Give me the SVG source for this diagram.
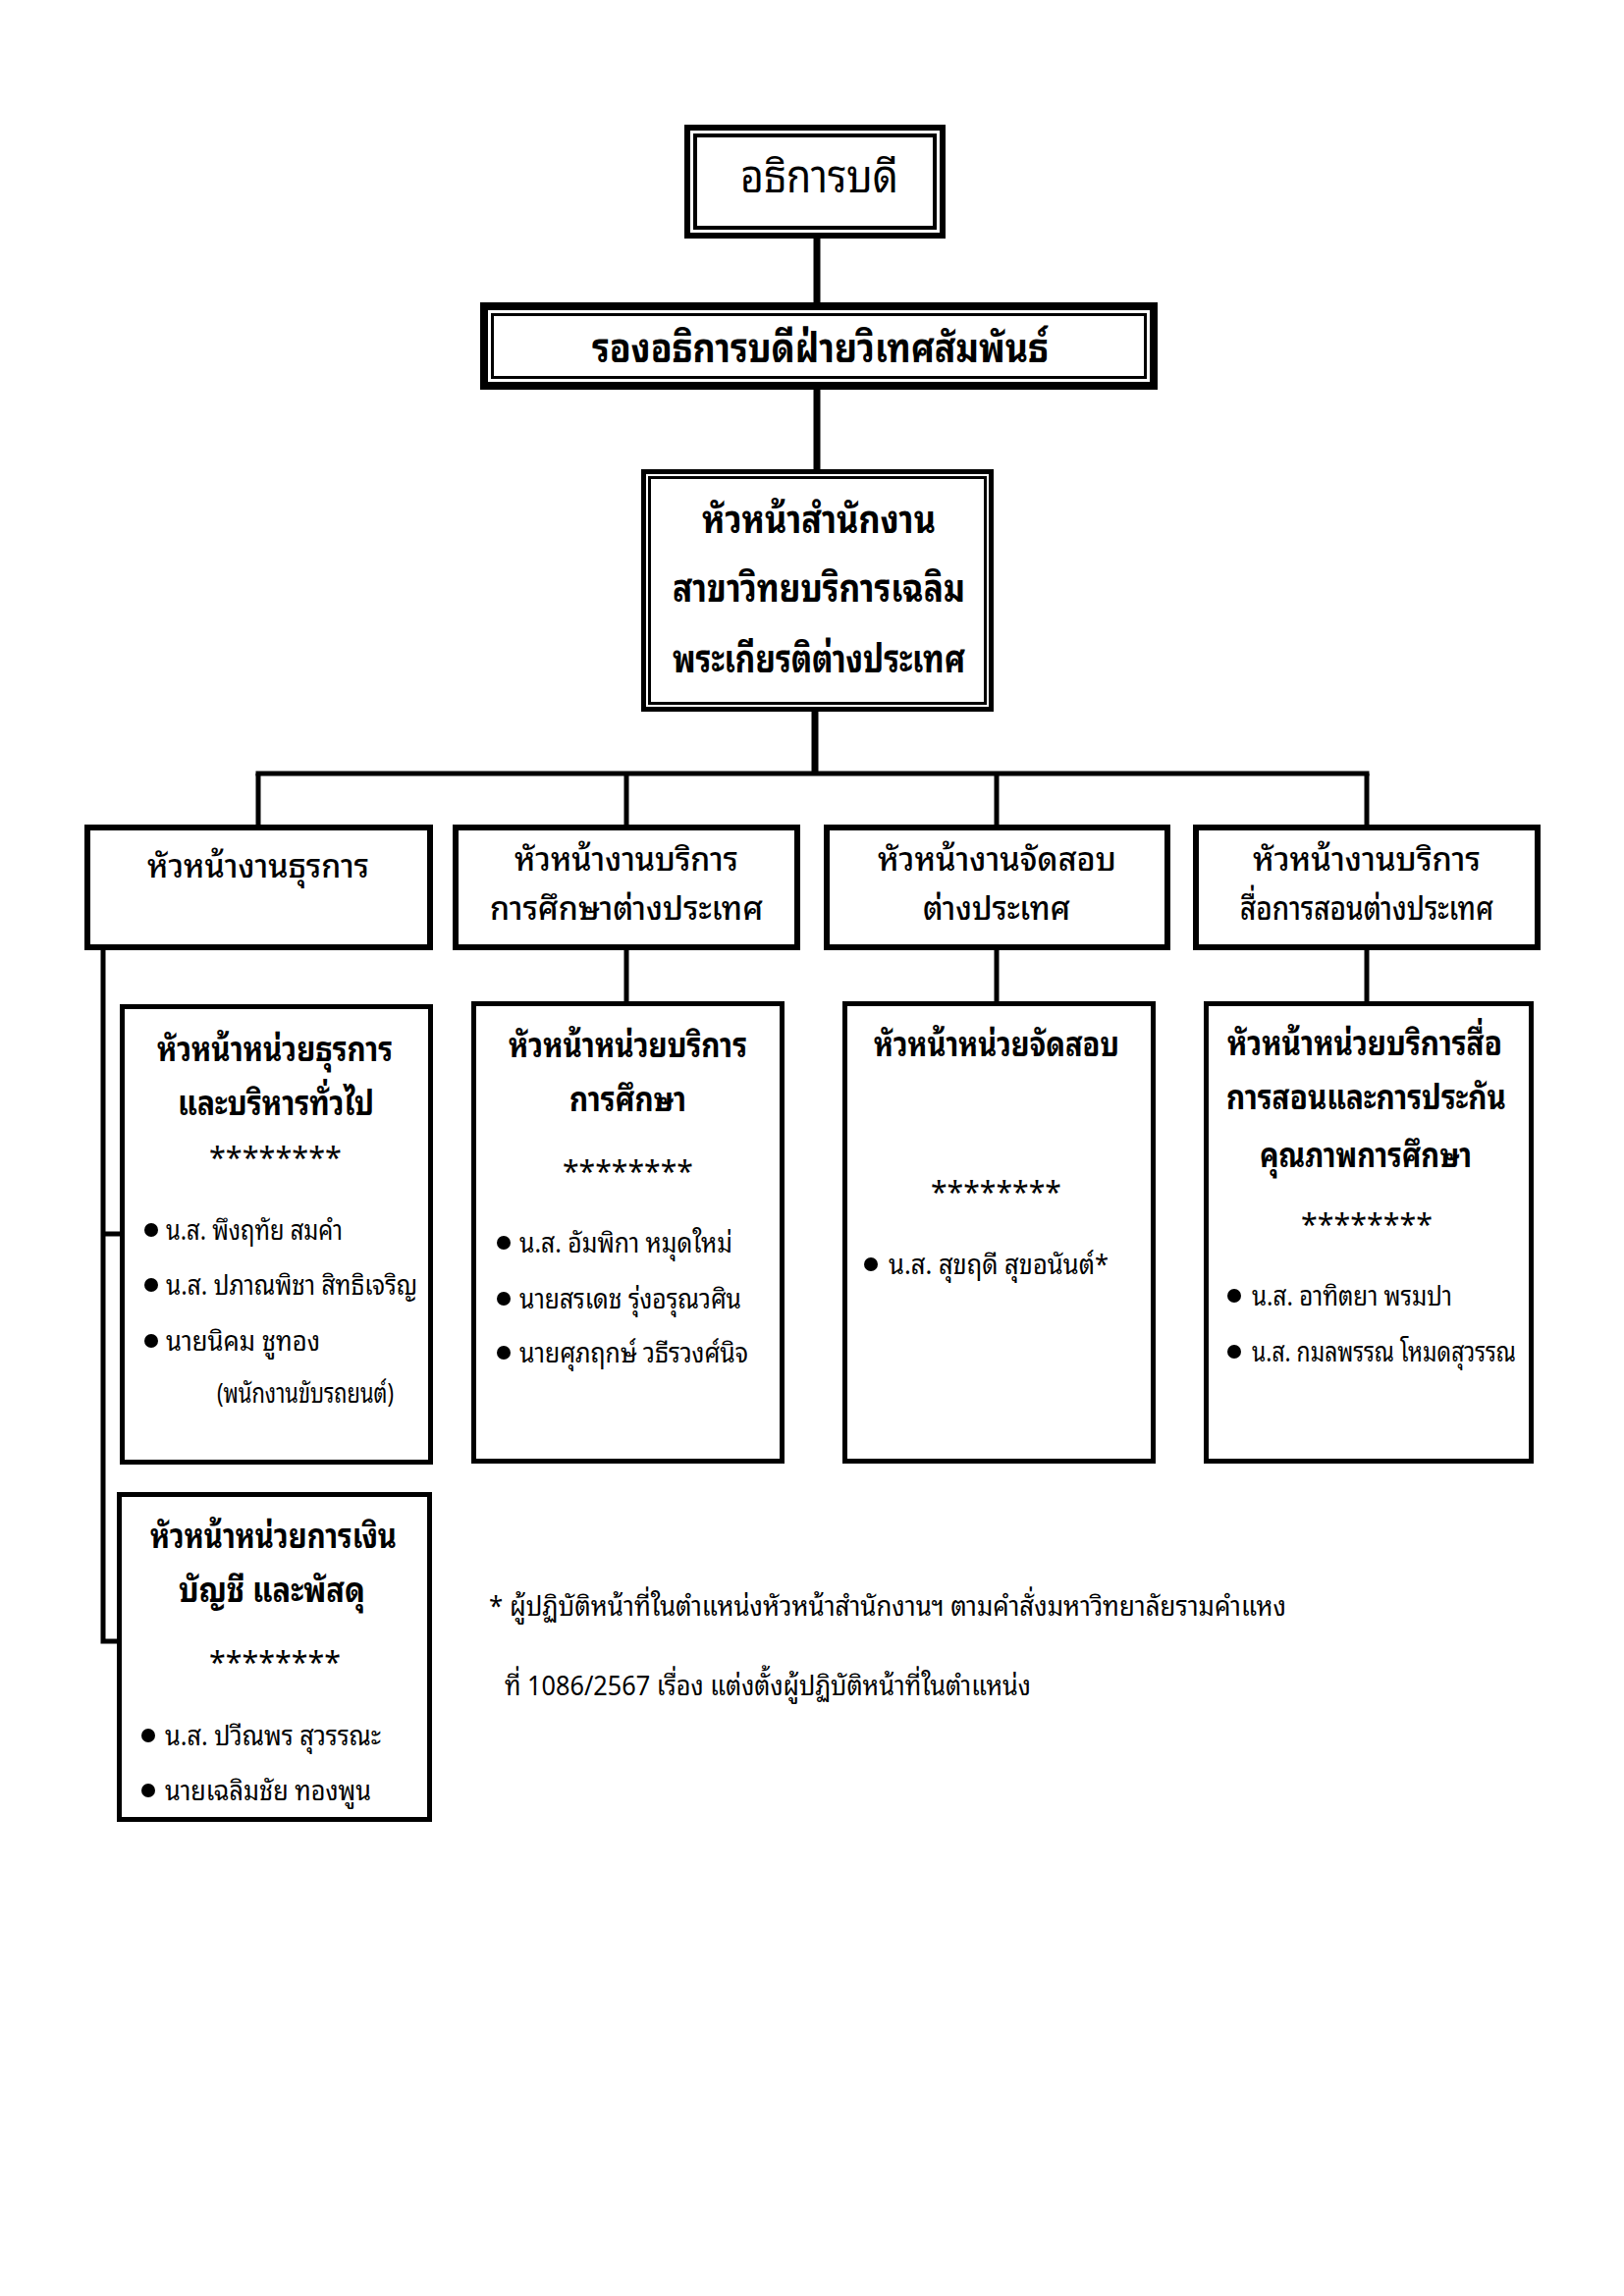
<svg xmlns="http://www.w3.org/2000/svg" width="1654" height="2339" viewBox="0 0 1654 2339">
<style>
text{font-family:'Noto Sans Thai Looped','Sarabun','TH Sarabun New','Loma','Garuda','Waree','Noto Sans Thai','Noto Sans Thai UI','Noto Sans','DejaVu Sans',sans-serif;fill:#000}
.t1{font-size:46px}
.t2{font-size:42px;font-weight:bold}
.t3{font-size:40px;font-weight:bold}
.t4{font-size:33px;font-weight:500}
.t5{font-size:34px;font-weight:bold}
.st{font-size:30px}
.p{font-size:28px}
.b6{fill:#fff;stroke:#000;stroke-width:6}
.b5{fill:#fff;stroke:#000;stroke-width:5}
.ln{stroke:#000;fill:none}
</style>
<rect width="1654" height="2339" fill="#fff"/>
<g id="connectors" class="ln">
<line x1="832" y1="243" x2="832" y2="308" stroke-width="7"/>
<line x1="832" y1="397" x2="832" y2="478" stroke-width="7"/>
<line x1="830" y1="725" x2="830" y2="788" stroke-width="7"/>
<line x1="260.5" y1="788" x2="1394.5" y2="788" stroke-width="5"/>
<line x1="263" y1="788" x2="263" y2="840" stroke-width="5"/>
<line x1="638" y1="788" x2="638" y2="840" stroke-width="5"/>
<line x1="1015" y1="788" x2="1015" y2="840" stroke-width="5"/>
<line x1="1392" y1="788" x2="1392" y2="840" stroke-width="5"/>
<line x1="638" y1="968" x2="638" y2="1020" stroke-width="5"/>
<line x1="1015" y1="968" x2="1015" y2="1020" stroke-width="5"/>
<line x1="1392" y1="968" x2="1392" y2="1020" stroke-width="5"/>
<polyline points="105,968 105,1672 120,1672" stroke-width="5"/>
<line x1="105" y1="1257" x2="123" y2="1257" stroke-width="5"/>
</g>
<g id="n1">
<rect x="700" y="130" width="260" height="110" fill="#fff" stroke="#000" stroke-width="6"/>
<rect x="708" y="138" width="244" height="94" fill="none" stroke="#000" stroke-width="4"/>
<text class="t1" x="754" y="196" textLength="161" lengthAdjust="spacingAndGlyphs">อธิการบดี</text>
</g>
<g id="n2">
<rect x="493" y="312" width="682" height="81" fill="#fff" stroke="#000" stroke-width="8"/>
<rect x="501.5" y="320.5" width="665" height="64" fill="none" stroke="#000" stroke-width="3"/>
<text class="t2" x="603" y="369" textLength="465" lengthAdjust="spacingAndGlyphs">รองอธิการบดีฝ่ายวิเทศสัมพันธ์</text>
</g>
<g id="n3">
<rect x="655.5" y="480.5" width="354" height="242" fill="#fff" stroke="#000" stroke-width="5"/>
<rect x="661.5" y="486.5" width="342" height="230" fill="none" stroke="#000" stroke-width="3"/>
<text class="t3" x="715" y="543" textLength="238" lengthAdjust="spacingAndGlyphs">หัวหน้าสำนักงาน</text>
<text class="t3" x="685" y="613" textLength="298" lengthAdjust="spacingAndGlyphs">สาขาวิทยบริการเฉลิม</text>
<text class="t3" x="685" y="685" textLength="298" lengthAdjust="spacingAndGlyphs">พระเกียรติต่างประเทศ</text>
</g>
<g id="s1">
<rect class="b6" x="89" y="843" width="349" height="122"/>
<text class="t4" x="150" y="894" textLength="226" lengthAdjust="spacingAndGlyphs">หัวหน้างานธุรการ</text>
</g>
<g id="s2">
<rect class="b6" x="464" y="843" width="348" height="122"/>
<text class="t4" x="524" y="887" textLength="228" lengthAdjust="spacingAndGlyphs">หัวหน้างานบริการ</text>
<text class="t4" x="499" y="937" textLength="278" lengthAdjust="spacingAndGlyphs">การศึกษาต่างประเทศ</text>
</g>
<g id="s3">
<rect class="b6" x="842" y="843" width="347" height="122"/>
<text class="t4" x="894" y="887" textLength="243" lengthAdjust="spacingAndGlyphs">หัวหน้างานจัดสอบ</text>
<text class="t4" x="940" y="937" textLength="150" lengthAdjust="spacingAndGlyphs">ต่างประเทศ</text>
</g>
<g id="s4">
<rect class="b6" x="1218" y="843" width="348" height="122"/>
<text class="t4" x="1276" y="887" textLength="232" lengthAdjust="spacingAndGlyphs">หัวหน้างานบริการ</text>
<text class="t4" x="1263" y="937" textLength="258" lengthAdjust="spacingAndGlyphs">สื่อการสอนต่างประเทศ</text>
</g>
<g id="uA">
<rect class="b5" x="124.5" y="1025.5" width="314" height="464"/>
<text class="t5" x="160" y="1081" textLength="240" lengthAdjust="spacingAndGlyphs">หัวหน้าหน่วยธุรการ</text>
<text class="t5" x="181" y="1136" textLength="200" lengthAdjust="spacingAndGlyphs">และบริหารทั่วไป</text>
<text class="st" x="213" y="1190" textLength="135" lengthAdjust="spacingAndGlyphs">********</text>
<circle cx="154" cy="1253" r="7"/>
<text class="p" x="169" y="1263" textLength="180" lengthAdjust="spacingAndGlyphs">น.ส. พึงฤทัย สมคำ</text>
<circle cx="154" cy="1309" r="7"/>
<text class="p" x="169" y="1319" textLength="256" lengthAdjust="spacingAndGlyphs">น.ส. ปภาณพิชา สิทธิเจริญ</text>
<circle cx="154" cy="1366" r="7"/>
<text class="p" x="169" y="1376" textLength="157" lengthAdjust="spacingAndGlyphs">นายนิคม ชูทอง</text>
<text class="p" x="221" y="1429" textLength="180" lengthAdjust="spacingAndGlyphs">(พนักงานขับรถยนต์)</text>
</g>
<g id="uB">
<rect class="b5" x="482.5" y="1022.5" width="314" height="466"/>
<text class="t5" x="518" y="1077" textLength="243" lengthAdjust="spacingAndGlyphs">หัวหน้าหน่วยบริการ</text>
<text class="t5" x="580" y="1132" textLength="119" lengthAdjust="spacingAndGlyphs">การศึกษา</text>
<text class="st" x="573" y="1204" textLength="133" lengthAdjust="spacingAndGlyphs">********</text>
<circle cx="513" cy="1266" r="7"/>
<text class="p" x="529" y="1276" textLength="217" lengthAdjust="spacingAndGlyphs">น.ส. อัมพิกา หมุดใหม่</text>
<circle cx="513" cy="1323" r="7"/>
<text class="p" x="529" y="1333" textLength="226" lengthAdjust="spacingAndGlyphs">นายสรเดช รุ่งอรุณวศิน</text>
<circle cx="513" cy="1378" r="7"/>
<text class="p" x="529" y="1388" textLength="233" lengthAdjust="spacingAndGlyphs">นายศุภฤกษ์ วธีรวงศ์นิจ</text>
</g>
<g id="uC">
<rect class="b5" x="860.5" y="1022.5" width="314" height="466"/>
<text class="t5" x="890" y="1076" textLength="250" lengthAdjust="spacingAndGlyphs">หัวหน้าหน่วยจัดสอบ</text>
<text class="st" x="948" y="1225" textLength="133" lengthAdjust="spacingAndGlyphs">********</text>
<circle cx="887" cy="1288" r="7"/>
<text class="p" x="905" y="1298" textLength="224" lengthAdjust="spacingAndGlyphs">น.ส. สุขฤดี สุขอนันต์*</text>
</g>
<g id="uD">
<rect class="b5" x="1228.5" y="1022.5" width="331" height="466"/>
<text class="t5" x="1250" y="1075" textLength="280" lengthAdjust="spacingAndGlyphs">หัวหน้าหน่วยบริการสื่อ</text>
<text class="t5" x="1249" y="1130" textLength="285" lengthAdjust="spacingAndGlyphs">การสอนและการประกัน</text>
<text class="t5" x="1283" y="1189" textLength="216" lengthAdjust="spacingAndGlyphs">คุณภาพการศึกษา</text>
<text class="st" x="1325" y="1258" textLength="134" lengthAdjust="spacingAndGlyphs">********</text>
<circle cx="1257" cy="1320" r="7"/>
<text class="p" x="1275" y="1330" textLength="204" lengthAdjust="spacingAndGlyphs">น.ส. อาทิตยา พรมปา</text>
<circle cx="1257" cy="1377" r="7"/>
<text class="p" x="1275" y="1387" textLength="269" lengthAdjust="spacingAndGlyphs">น.ส. กมลพรรณ โหมดสุวรรณ</text>
</g>
<g id="uE">
<rect class="b5" x="121.5" y="1522.5" width="316" height="331"/>
<text class="t5" x="153" y="1577" textLength="251" lengthAdjust="spacingAndGlyphs">หัวหน้าหน่วยการเงิน</text>
<text class="t5" x="182" y="1632" textLength="190" lengthAdjust="spacingAndGlyphs">บัญชี และพัสดุ</text>
<text class="st" x="213" y="1704" textLength="134" lengthAdjust="spacingAndGlyphs">********</text>
<circle cx="151" cy="1768" r="7"/>
<text class="p" x="168" y="1778" textLength="220" lengthAdjust="spacingAndGlyphs">น.ส. ปวีณพร สุวรรณะ</text>
<circle cx="151" cy="1824" r="7"/>
<text class="p" x="168" y="1834" textLength="210" lengthAdjust="spacingAndGlyphs">นายเฉลิมชัย ทองพูน</text>
</g>
<g id="footnote">
<text class="p" x="498" y="1646" textLength="812" lengthAdjust="spacingAndGlyphs">* ผู้ปฏิบัติหน้าที่ในตำแหน่งหัวหน้าสำนักงานฯ ตามคำสั่งมหาวิทยาลัยรามคำแหง</text>
<text class="p" x="514" y="1727" textLength="536" lengthAdjust="spacingAndGlyphs">ที่ 1086/2567 เรื่อง แต่งตั้งผู้ปฏิบัติหน้าที่ในตำแหน่ง</text>
</g>
</svg>
